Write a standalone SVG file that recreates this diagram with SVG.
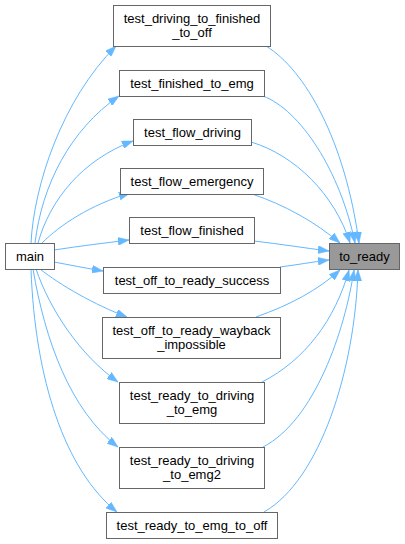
<svg xmlns="http://www.w3.org/2000/svg" width="405" height="544" viewBox="0 0 405 544">
<style>
.n rect{fill:#fff;stroke:#666;stroke-width:1}
.n.hl rect{fill:#999}
.n text{font-family:"Liberation Sans",Arial,Helvetica,sans-serif;font-size:13px;fill:#000;text-anchor:middle}
.e path{fill:none;stroke:#63b8ff;stroke-width:1;marker-end:url(#ah)}
</style>
<defs>
<marker id="ah" viewBox="0 0 11 8" refX="11" refY="4" markerWidth="11" markerHeight="8" markerUnits="userSpaceOnUse" orient="auto">
<path d="M0,0 L11,4 L0,8 z" fill="#63b8ff" stroke="#63b8ff" stroke-width="0.5"/>
</marker>
</defs>
<rect width="405" height="544" fill="#fff"/>
<g id="edges" class="e">
<path d="M31,243 C34,185 62,100 116,46"/>
<path d="M35,243 C42,185 70,130 119,96"/>
<path d="M38,243 C50,200 82,160 133,141"/>
<path d="M42,243 C60,225 90,205 130,193"/>
<path d="M54,250 C80,246 105,243 129,240"/>
<path d="M54,262 C70,265 85,268 103,271"/>
<path d="M40,269 C60,285 95,305 127,317"/>
<path d="M36,269 C50,310 80,355 118,382"/>
<path d="M33,269 C45,340 70,410 118,447"/>
<path d="M31,269 C35,380 65,470 117,512"/>
<path d="M266,46 C305,70 345,140 359,243"/>
<path d="M263,96 C300,110 340,170 355,243"/>
<path d="M251,142 C295,155 335,195 350,243"/>
<path d="M252,194 C285,205 315,222 340,243"/>
<path d="M254,241 C280,244 305,248 329,251"/>
<path d="M280,267 C296,265 312,262 329,260"/>
<path d="M256,317 C290,305 318,290 340,270"/>
<path d="M262,382 C305,360 335,320 349,270"/>
<path d="M263,447 C315,420 345,330 354,270"/>
<path d="M264,512 C320,480 355,370 358,270"/>
</g>
<g id="to_ready" class="n hl"><rect x="329.5" y="243.5" width="70" height="26"/><text x="364.5" y="260.6">to_ready</text></g>
<g id="main" class="n"><rect x="5.5" y="243.5" width="49" height="26"/><text x="30" y="260.6">main</text></g>
<g id="test_driving_to_finished_to_off" class="n"><rect x="113.5" y="5.5" width="157" height="41"/><text x="192" y="22.9">test_driving_to_finished</text><text x="192" y="37.4">_to_off</text></g>
<g id="test_finished_to_emg" class="n"><rect x="119.5" y="70.5" width="145" height="26"/><text x="192" y="87.6">test_finished_to_emg</text></g>
<g id="test_flow_driving" class="n"><rect x="133.5" y="119.5" width="118" height="26"/><text x="192.5" y="136.6">test_flow_driving</text></g>
<g id="test_flow_emergency" class="n"><rect x="120.5" y="168.5" width="143" height="26"/><text x="192" y="185.6">test_flow_emergency</text></g>
<g id="test_flow_finished" class="n"><rect x="129.5" y="217.5" width="125" height="26"/><text x="192" y="234.6">test_flow_finished</text></g>
<g id="test_off_to_ready_success" class="n"><rect x="103.5" y="267.5" width="177" height="26"/><text x="192" y="284.6">test_off_to_ready_success</text></g>
<g id="test_off_to_ready_wayback_impossible" class="n"><rect x="102.5" y="317.5" width="178" height="41"/><text x="191.5" y="334.9">test_off_to_ready_wayback</text><text x="191.5" y="349.4">_impossible</text></g>
<g id="test_ready_to_driving_to_emg" class="n"><rect x="119.5" y="382.5" width="145" height="41"/><text x="192" y="399.9">test_ready_to_driving</text><text x="192" y="414.4">_to_emg</text></g>
<g id="test_ready_to_driving_to_emg2" class="n"><rect x="119.5" y="447.5" width="145" height="41"/><text x="192" y="464.9">test_ready_to_driving</text><text x="192" y="479.4">_to_emg2</text></g>
<g id="test_ready_to_emg_to_off" class="n"><rect x="106.5" y="512.5" width="171" height="26"/><text x="192" y="529.6">test_ready_to_emg_to_off</text></g>
</svg>
